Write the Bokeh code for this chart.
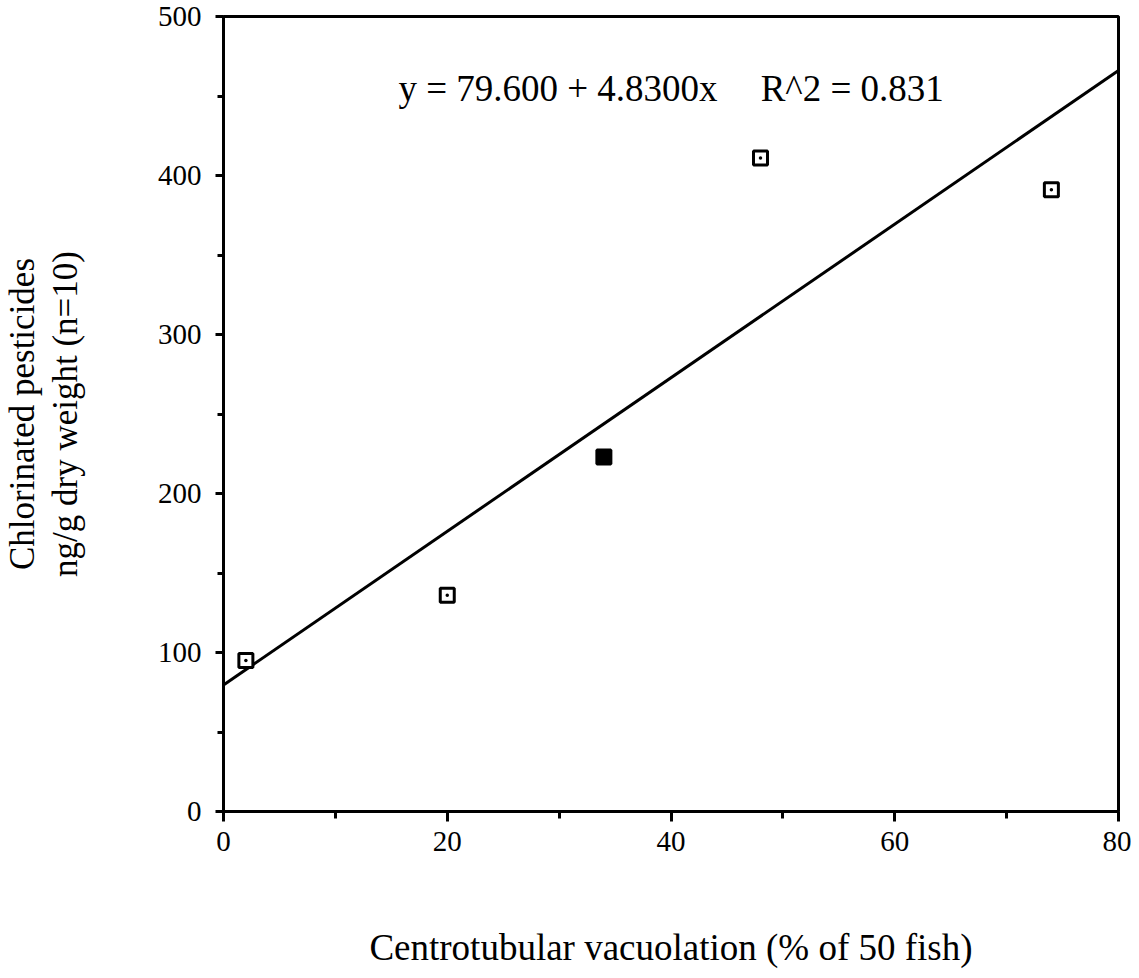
from bokeh.plotting import figure
from bokeh.models import Range1d, FixedTicker, Label, ColumnDataSource
from bokeh.embed import file_html
from bokeh.resources import INLINE

# Data
vacuolation = [2, 20, 34, 48, 74]
pesticides = [95, 136, 223, 411, 391]
fit_intercept = 79.600
fit_slope = 4.8300
fit_r2 = 0.831
x_ticks = [0, 20, 40, 60, 80]
x_minor = [10, 30, 50, 70]
y_ticks = [0, 100, 200, 300, 400, 500]
y_minor = [50, 150, 250, 350, 450]
x_title = "Centrotubular vacuolation (% of 50 fish)"
y_title_1 = "Chlorinated pesticides"
y_title_2 = "ng/g dry weight (n=10)"

FONT = "Liberation Serif"

p = figure(width=1131, height=970, output_backend="svg", toolbar_location=None,
           x_range=Range1d(0, 80), y_range=Range1d(0, 500),
           min_border_left=220, min_border_right=13, min_border_top=16, min_border_bottom=154)
p.grid.visible = False
p.outline_line_color = "black"
p.outline_line_width = 3
p.background_fill_color = "white"
p.border_fill_color = "white"

for ax, ticks, minor in ((p.xaxis[0], x_ticks, x_minor), (p.yaxis[0], y_ticks, y_minor)):
    ax.ticker = FixedTicker(ticks=ticks, minor_ticks=minor)
    ax.axis_line_color = "black"
    ax.axis_line_width = 3
    ax.major_tick_line_color = "black"
    ax.major_tick_line_width = 3
    ax.minor_tick_line_color = "black"
    ax.minor_tick_line_width = 3
    ax.major_tick_in = 0
    ax.minor_tick_in = 0
    ax.major_label_text_font = FONT
    ax.major_label_text_font_size = "29px"
    ax.major_label_text_color = "black"

p.xaxis.major_tick_out = 10
p.xaxis.minor_tick_out = 7
p.xaxis.major_label_standoff = 10
p.yaxis.major_tick_out = 8
p.yaxis.minor_tick_out = 6
p.yaxis.major_label_standoff = 14

p.xaxis.axis_label = x_title
p.xaxis.axis_label_text_font = FONT
p.xaxis.axis_label_text_font_style = "normal"
p.xaxis.axis_label_text_color = "black"
p.xaxis.axis_label_text_font_size = "37px"
p.xaxis.axis_label_standoff = 73

p.yaxis.axis_label = y_title_1 + "\n" + y_title_2
p.yaxis.axis_label_text_font = FONT
p.yaxis.axis_label_text_font_style = "normal"
p.yaxis.axis_label_text_color = "black"
p.yaxis.axis_label_text_font_size = "35px"
p.yaxis.axis_label_text_line_height = 1.1
p.yaxis.axis_label_standoff = 70

# regression line
fx = [x_ticks[0], x_ticks[-1]]
fy = [fit_intercept + fit_slope * v for v in fx]
p.line(fx, fy, line_color="black", line_width=3)

fills = ["white"] * len(vacuolation)
fills[2] = "black"
src = ColumnDataSource(dict(x=vacuolation, y=pesticides, f=fills))
p.scatter("x", "y", source=src, marker="square_dot", size=14, fill_color="f",
          line_color="black", line_width=3)

eq1 = "y = %.3f + %.4fx" % (fit_intercept, fit_slope)
eq2 = "R^2 = %.3f" % fit_r2
p.add_layout(Label(x=29.9, y=455, text=eq1, text_font=FONT, text_font_size="37px",
                   text_baseline="middle", text_align="center", text_color="black"))
p.add_layout(Label(x=56.2, y=455, text=eq2, text_font=FONT, text_font_size="37px",
                   text_baseline="middle", text_align="center", text_color="black"))

open("out.html", "w").write(file_html(p, INLINE))
